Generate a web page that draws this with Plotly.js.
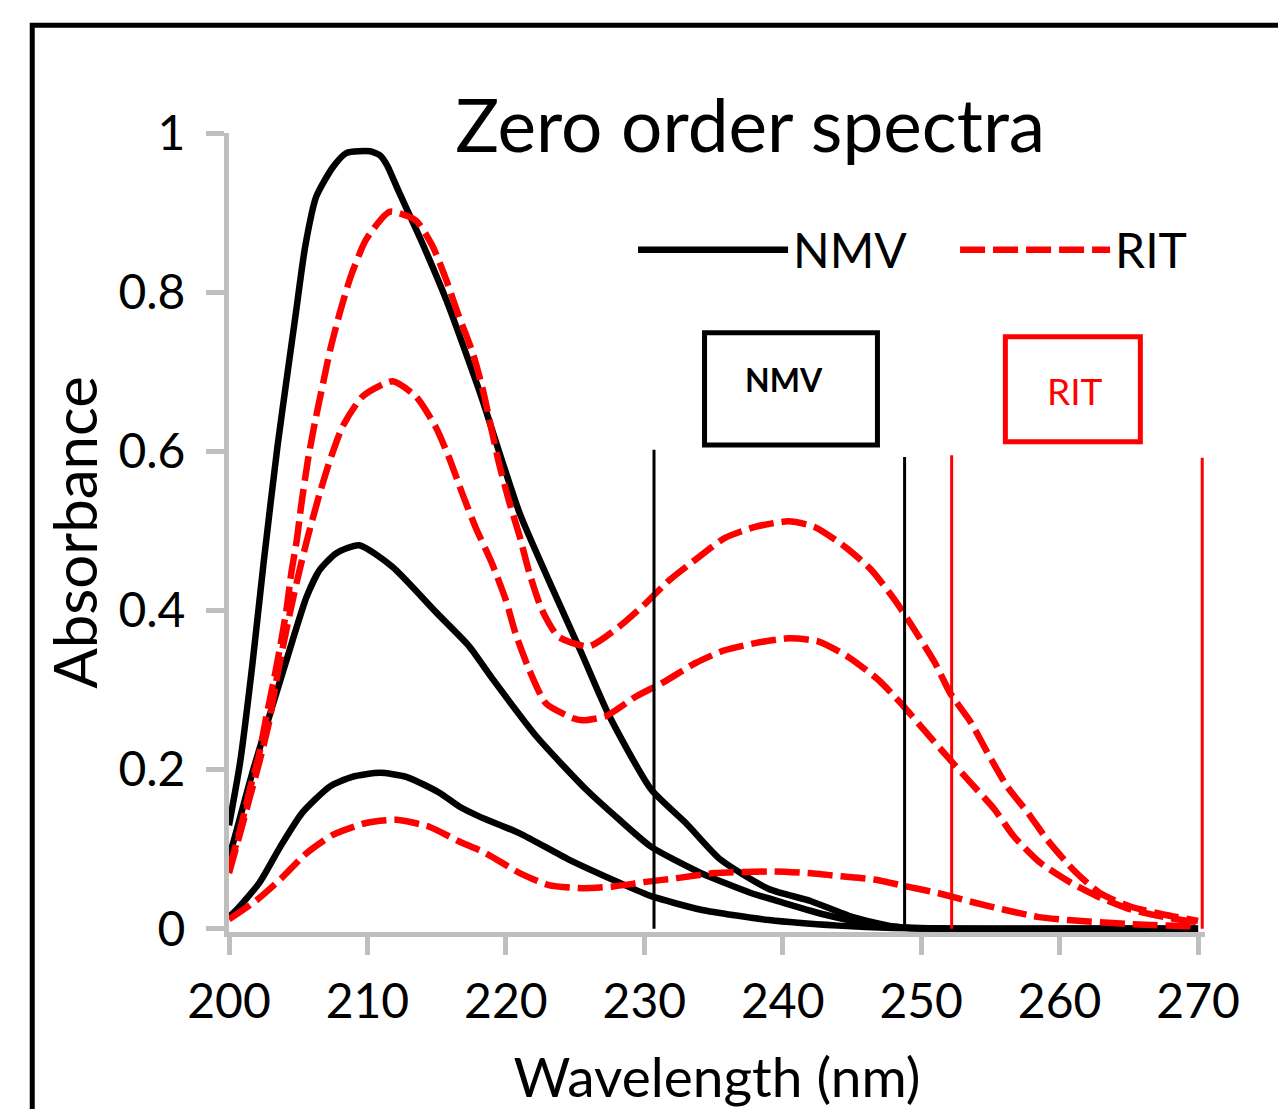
<!DOCTYPE html>
<html>
<head>
<meta charset="utf-8">
<script src="https://cdn.plot.ly/plotly-3.0.1.min.js"></script>
<style>
html, body { margin: 0; padding: 0; background: #ffffff; }
#chart { width: 1278px; height: 1109px; }
</style>
</head>
<body>
<div id="chart"></div>
<script>
// ---- Data ----
const nmvWl1 = [200, 200.8, 201.7, 202.5, 203.5, 204.2, 204.8, 205.5, 206.3, 207.5, 208.5, 210.2, 210.9, 211.4, 212.3, 213.8, 215.7, 217.8, 218.3, 221, 223.3, 225.5, 227.4, 230.5, 233, 235.5, 239, 242, 245, 248, 252, 260, 270];
const nmvAbs1 = [0.13, 0.209, 0.334, 0.46, 0.606, 0.695, 0.77, 0.857, 0.92, 0.957, 0.975, 0.977, 0.972, 0.96, 0.925, 0.868, 0.79, 0.69, 0.665, 0.522, 0.43, 0.345, 0.27, 0.175, 0.133, 0.087, 0.05, 0.035, 0.015, 0.003, 0, 0, 0];

const nmvWl2 = [200, 200.3, 201.75, 204.6, 205.6, 206.55, 207.75, 209.4, 211.8, 215, 217.35, 219, 222.2, 225.8, 228.2, 230.5, 234.1, 237.7, 240, 243, 246, 249, 255, 262, 270];
const nmvAbs2 = [0.09, 0.108, 0.2, 0.363, 0.417, 0.451, 0.472, 0.482, 0.455, 0.397, 0.355, 0.315, 0.242, 0.175, 0.137, 0.103, 0.07, 0.045, 0.033, 0.018, 0.007, 0.001, 0, 0, 0];

const nmvWl3 = [200, 200.55, 202.2, 203.7, 205.3, 207.3, 208.9, 210.9, 212.8, 215.2, 216.6, 218.1, 221, 224.55, 228.2, 230.5, 234.1, 239, 244, 248, 255, 262, 270];
const nmvAbs3 = [0.015, 0.024, 0.058, 0.103, 0.146, 0.179, 0.191, 0.196, 0.191, 0.171, 0.154, 0.141, 0.12, 0.087, 0.058, 0.041, 0.024, 0.011, 0.004, 0.001, 0, 0, 0];

const ritWl1 = [200, 200.8, 201.5, 202.2, 202.7, 203.2, 203.7, 204.15, 204.5, 204.9, 205.2, 205.7, 206.2, 206.8, 207.3, 208, 208.8, 209.9, 211.6, 213.5, 214.7, 215.7, 216.6, 217.6, 218.3, 219.5, 220.2, 221, 221.7, 222.6, 223.8, 226, 228.2, 230.1, 231.8, 233.7, 235.8, 238, 240.4, 242.3, 244.5, 246.4, 248.1, 249.5, 251, 252.1, 253.6, 254.8, 256.2, 257.7, 259.1, 261, 262.9, 265.1, 267.5, 270];
const ritAbs1 = [0.075, 0.124, 0.175, 0.221, 0.267, 0.309, 0.355, 0.401, 0.447, 0.489, 0.53, 0.589, 0.636, 0.686, 0.727, 0.774, 0.82, 0.866, 0.901, 0.89, 0.858, 0.815, 0.77, 0.724, 0.68, 0.585, 0.539, 0.493, 0.447, 0.401, 0.367, 0.355, 0.38, 0.409, 0.438, 0.464, 0.491, 0.505, 0.512, 0.505, 0.48, 0.451, 0.413, 0.376, 0.334, 0.296, 0.259, 0.221, 0.179, 0.146, 0.112, 0.074, 0.045, 0.028, 0.018, 0.01];

const ritWl2 = [200, 200.8, 201.5, 202.2, 202.9, 203.4, 203.9, 204.5, 205.1, 205.7, 206.55, 207.3, 208.2, 209.65, 211.8, 213.5, 214.95, 215.9, 216.85, 217.8, 219, 220, 220.7, 221.7, 222.9, 224.8, 225.5, 227.2, 229.4, 231.3, 233.7, 235.8, 238, 240.4, 242.6, 244.7, 246.9, 248.5, 250.2, 251.9, 253.6, 255.3, 256.7, 258.6, 260.8, 262.7, 265, 267.5, 270];
const ritAbs2 = [0.07, 0.12, 0.165, 0.21, 0.26, 0.31, 0.355, 0.405, 0.451, 0.493, 0.547, 0.589, 0.631, 0.669, 0.688, 0.669, 0.63, 0.592, 0.547, 0.505, 0.459, 0.413, 0.371, 0.325, 0.283, 0.265, 0.262, 0.267, 0.292, 0.309, 0.334, 0.35, 0.359, 0.365, 0.361, 0.342, 0.313, 0.284, 0.25, 0.216, 0.183, 0.15, 0.116, 0.083, 0.058, 0.041, 0.025, 0.015, 0.008];

const ritWl3 = [200, 202, 203.7, 205.6, 207.5, 209.9, 212.1, 214.5, 216.6, 218.55, 221, 223.1, 225.5, 227.65, 230.1, 232.5, 235.1, 239.4, 241.8, 244.2, 246.6, 249, 251.2, 253.6, 256, 258.4, 260.6, 265, 270];
const ritAbs3 = [0.012, 0.036, 0.062, 0.095, 0.118, 0.133, 0.137, 0.128, 0.11, 0.095, 0.07, 0.055, 0.051, 0.053, 0.059, 0.064, 0.07, 0.072, 0.07, 0.066, 0.062, 0.053, 0.045, 0.034, 0.024, 0.015, 0.011, 0.006, 0.003];

// Selected wavelength ranges (vertical markers) and their heights
const nmvRangeWl = [230.7, 248.8];
const nmvRangeTop = [0.602, 0.593];
const ritRangeWl = [252.2, 270.3];
const ritRangeTop = [0.595, 0.592];

const xTickVals = [200, 210, 220, 230, 240, 250, 260, 270];
const yTickVals = [0, 0.2, 0.4, 0.6, 0.8, 1];
const yTickText = ['0', '0.2', '0.4', '0.6', '0.8', '1'];

// ---- Styling ----
const FONT = 'Lato, "Open Sans", sans-serif';
const BLACK = '#000000';
const RED = '#ff0000';
const AXIS_GRAY = '#bfbfbf';
const LW = 6.5;
const DASH = '25px,8px';

function curve(x, y, color, dash, name, showlegend, legendwidth) {
  const t = {
    type: 'scatter', mode: 'lines', x: x, y: y,
    name: name, legendgroup: name, showlegend: showlegend,
    line: { color: color, width: LW, dash: dash, shape: 'spline', smoothing: 0.6 },
    hoverinfo: 'x+y+name'
  };
  if (legendwidth) t.legendwidth = legendwidth;
  return t;
}

const traces = [
  curve(nmvWl1, nmvAbs1, BLACK, 'solid', 'NMV', true, 157),
  curve(nmvWl2, nmvAbs2, BLACK, 'solid', 'NMV', false),
  curve(nmvWl3, nmvAbs3, BLACK, 'solid', 'NMV', false),
  curve(ritWl1, ritAbs1, RED, DASH, 'RIT', true, 70),
  curve(ritWl2, ritAbs2, RED, DASH, 'RIT', false),
  curve(ritWl3, ritAbs3, RED, DASH, 'RIT', false)
];

const shapes = [];
nmvRangeWl.forEach((w, i) => shapes.push({
  type: 'line', xref: 'x', yref: 'y', x0: w, x1: w, y0: 0, y1: nmvRangeTop[i],
  line: { color: BLACK, width: 3 }
}));
ritRangeWl.forEach((w, i) => shapes.push({
  type: 'line', xref: 'x', yref: 'y', x0: w, x1: w, y0: 0, y1: ritRangeTop[i],
  line: { color: RED, width: 3 }
}));
// Label boxes
shapes.push({ type: 'rect', xref: 'x', yref: 'y', x0: 234.35, x1: 246.84, y0: 0.608, y1: 0.749,
  line: { color: BLACK, width: 5 }, fillcolor: 'rgba(0,0,0,0)' });
shapes.push({ type: 'rect', xref: 'x', yref: 'y', x0: 256.08, x1: 265.83, y0: 0.612, y1: 0.744,
  line: { color: RED, width: 5 }, fillcolor: 'rgba(0,0,0,0)' });
// Chart-area frame
shapes.push({ type: 'rect', xref: 'paper', yref: 'paper', x0: -0.2016, x1: 1.3, y0: -0.4, y1: 1.135,
  line: { color: BLACK, width: 5 }, fillcolor: 'rgba(0,0,0,0)', layer: 'above' });

const layout = {
  width: 1278, height: 1109, autosize: false,
  paper_bgcolor: '#ffffff', plot_bgcolor: '#ffffff',
  margin: { l: 229, r: 73, t: 133, b: 177, pad: 0, autoexpand: false },
  title: {
    text: 'Zero order spectra',
    font: { family: FONT, size: 73, color: BLACK },
    xref: 'container', yref: 'container', x: 0.587, xanchor: 'center', y: 0.8864, yanchor: 'middle'
  },
  xaxis: {
    range: [200, 270.5], tickmode: 'array', tickvals: xTickVals,
    showgrid: false, zeroline: false,
    showline: true, linecolor: AXIS_GRAY, linewidth: 5,
    ticks: 'outside', ticklen: 18, tickwidth: 5, tickcolor: AXIS_GRAY,
    tickfont: { family: FONT, size: 48, color: BLACK },
    ticklabelstandoff: 5,
    title: { text: 'Wavelength (nm)', font: { family: FONT, size: 55, color: BLACK }, standoff: 36 }
  },
  yaxis: {
    range: [-0.004, 1], tickmode: 'array', tickvals: yTickVals, ticktext: yTickText,
    showgrid: false, zeroline: false,
    showline: true, linecolor: AXIS_GRAY, linewidth: 5,
    ticks: 'outside', ticklen: 18, tickwidth: 5, tickcolor: AXIS_GRAY,
    tickfont: { family: FONT, size: 48, color: BLACK },
    ticklabelstandoff: 11,
    title: { text: 'Absorbance', font: { family: FONT, size: 60, color: BLACK }, standoff: 3 }
  },
  showlegend: true,
  legend: {
    orientation: 'h', x: 0.414, xanchor: 'left', y: 0.8536, yanchor: 'middle',
    itemwidth: 150,
    font: { family: FONT, size: 48, color: BLACK },
    bgcolor: 'rgba(0,0,0,0)', borderwidth: 0
  },
  shapes: shapes,
  annotations: [
    { xref: 'x', yref: 'y', x: 240.1, y: 0.6905, text: '<b>NMV</b>', showarrow: false,
      font: { family: FONT, size: 32, color: BLACK }, xanchor: 'center', yanchor: 'middle' },
    { xref: 'x', yref: 'y', x: 261.1, y: 0.677, text: 'RIT', showarrow: false,
      font: { family: FONT, size: 37, color: RED }, xanchor: 'center', yanchor: 'middle' }
  ]
};

Plotly.newPlot('chart', traces, layout, { displayModeBar: false });
</script>
</body>
</html>
